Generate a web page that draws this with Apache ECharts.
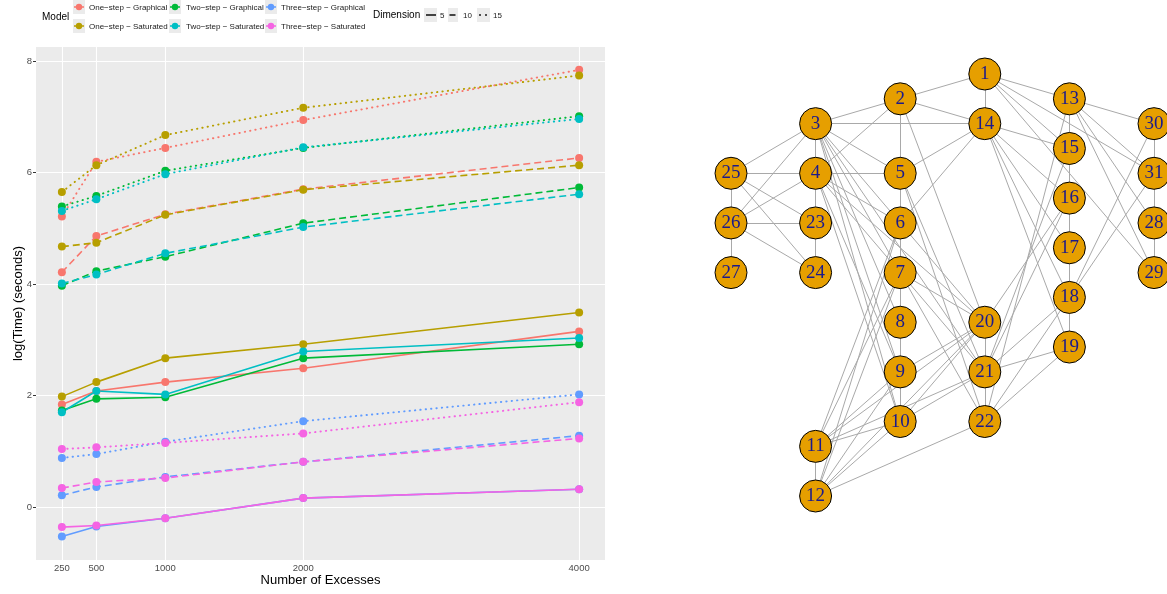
<!DOCTYPE html>
<html>
<head>
<meta charset="utf-8">
<script src="https://cdn.jsdelivr.net/npm/echarts@6/dist/echarts.min.js"></script>
<style>
  html, body { margin: 0; padding: 0; background: #ffffff; }
  #chart { width: 1167px; height: 594px; }
</style>
</head>
<body>
<div id="chart"></div>
<script>
// ---- timing data: log(Time) in seconds against number of excesses ----
const excesses = [250, 500, 1000, 2000, 4000];
const yTicks = [0, 2, 4, 6, 8];

const models = [
  'One−step − Graphical', 'One−step − Saturated',
  'Two−step − Graphical', 'Two−step − Saturated',
  'Three−step − Graphical', 'Three−step − Saturated'
];
const modelColors = ['#F8766D', '#B79F00', '#00BA38', '#00BFC4', '#619CFF', '#F564E3'];
const dimensions = [5, 10, 15];

// One-step, graphical
const oneGraph5  = [1.84, 2.08, 2.24, 2.49, 3.15];
const oneGraph10 = [4.21, 4.86, 5.25, 5.70, 6.26];
const oneGraph15 = [5.21, 6.19, 6.44, 6.94, 7.84];
// One-step, saturated
const oneSat5  = [1.98, 2.24, 2.67, 2.92, 3.49];
const oneSat10 = [4.67, 4.74, 5.24, 5.69, 6.13];
const oneSat15 = [5.65, 6.13, 6.67, 7.16, 7.74];
// Two-step, graphical
const twoGraph5  = [1.73, 1.94, 1.97, 2.67, 2.92];
const twoGraph10 = [3.97, 4.23, 4.49, 5.09, 5.73];
const twoGraph15 = [5.39, 5.58, 6.03, 6.44, 7.01];
// Two-step, saturated
const twoSat5  = [1.70, 2.08, 2.02, 2.79, 3.03];
const twoSat10 = [4.01, 4.17, 4.55, 5.02, 5.61];
const twoSat15 = [5.31, 5.52, 5.97, 6.45, 6.96];
// Three-step, graphical
const threeGraph5  = [-0.53, -0.35, -0.20, 0.16, 0.32];
const threeGraph10 = [0.21, 0.36, 0.54, 0.81, 1.28];
const threeGraph15 = [0.88, 0.95, 1.17, 1.54, 2.02];
// Three-step, saturated
const threeSat5  = [-0.36, -0.33, -0.20, 0.16, 0.32];
const threeSat10 = [0.34, 0.45, 0.52, 0.81, 1.23];
const threeSat15 = [1.04, 1.07, 1.15, 1.32, 1.88];

const timings = [
  [oneGraph5, oneGraph10, oneGraph15],
  [oneSat5, oneSat10, oneSat15],
  [twoGraph5, twoGraph10, twoGraph15],
  [twoSat5, twoSat10, twoSat15],
  [threeGraph5, threeGraph10, threeGraph15],
  [threeSat5, threeSat10, threeSat15]
];

// ---- graph structure: node grid position (column, half-row) and edges ----
const nodeIds  = [1, 2, 3, 4, 5, 6, 7, 8, 9, 10, 11, 12, 13, 14, 15, 16,
                  17, 18, 19, 20, 21, 22, 23, 24, 25, 26, 27, 28, 29, 30, 31];
const nodeCols = [3, 2, 1, 1, 2, 2, 2, 2, 2, 2, 1, 1, 4, 3, 4, 4,
                  4, 4, 4, 3, 3, 3, 1, 1, 0, 0, 0, 5, 5, 5, 5];
const nodeRows = [0, 1, 2, 4, 4, 6, 8, 10, 12, 14, 15, 17, 1, 2, 3, 5,
                  7, 9, 11, 10, 12, 14, 6, 8, 4, 6, 8, 6, 8, 2, 4];
const edgeList = [
  [1,2],[1,14],[1,13],[1,15],[1,31],[1,29],
  [2,3],[2,5],[2,14],[2,4],[2,20],
  [3,4],[3,14],[3,5],[3,6],[3,25],[3,26],[3,8],[3,9],[3,10],[3,21],[3,22],
  [4,5],[4,23],[4,25],[4,26],[4,6],[4,7],[4,9],[4,10],[4,20],
  [5,6],[5,14],[5,21],[5,22],
  [6,7],[6,14],[6,20],[6,11],[6,12],
  [7,8],[7,20],[7,21],[7,11],[7,12],
  [8,9],[9,10],[9,20],[9,11],[9,12],
  [10,11],[10,12],[10,20],[10,21],
  [11,12],[11,20],[11,21],[12,22],[12,20],
  [13,15],[13,30],[13,31],[13,28],[13,29],[13,22],
  [14,15],[14,16],[14,17],[14,18],[14,19],
  [15,16],[15,21],
  [16,17],[16,20],[16,21],
  [17,18],[18,19],[18,21],[18,22],[18,30],[18,31],
  [19,21],[19,22],
  [20,21],[21,22],
  [23,24],[23,25],[23,26],[24,25],[24,26],[25,26],[26,27],
  [30,31],[31,28],[28,29]
];

// ---- build line series ----
const dashStyles = ['solid', [7, 4], [0.4, 5]];
const dashCaps = ['butt', 'butt', 'round'];
const series = [];

// white major grid lines drawn under the data
series.push({
  type: 'line', data: [], z: 1, silent: true, xAxisIndex: 0, yAxisIndex: 0,
  markLine: {
    z: 1,
    silent: true, symbol: 'none', animation: false,
    label: { show: false },
    lineStyle: { color: '#ffffff', width: 1.1, type: 'solid' },
    data: excesses.map(v => ({ xAxis: v })).concat(yTicks.map(v => ({ yAxis: v })))
  }
});

timings.forEach((byDim, m) => {
  byDim.forEach((vals, d) => {
    series.push({
      name: models[m] + ' / ' + dimensions[d],
      type: 'line',
      xAxisIndex: 0, yAxisIndex: 0,
      z: 3,
      data: excesses.map((x, i) => [x, vals[i]]),
      symbol: 'circle',
      symbolSize: 8,
      showSymbol: true,
      animation: false,
      itemStyle: { color: modelColors[m], borderWidth: 0 },
      lineStyle: { color: modelColors[m], width: d === 2 ? 1.9 : 1.6, type: dashStyles[d], cap: dashCaps[d] }
    });
  });
});

// network drawn on its own hidden cartesian frame
series.push({
  type: 'graph',
  coordinateSystem: 'cartesian2d',
  xAxisIndex: 1, yAxisIndex: 1,
  animation: false,
  symbol: 'circle',
  symbolSize: 32,
  z: 5,
  itemStyle: { color: '#E69F00', borderColor: '#000000', borderWidth: 1 },
  label: {
    show: true, position: 'inside',
    fontFamily: 'Liberation Serif', fontSize: 19, color: '#1A1A8C'
  },
  lineStyle: { color: '#A9A9A9', width: 1, opacity: 1, curveness: 0 },
  emphasis: { disabled: true },
  data: nodeIds.map((id, i) => ({
    name: String(id), value: [nodeCols[i], nodeRows[i]]
  })),
  links: edgeList.map(e => ({ source: String(e[0]), target: String(e[1]) }))
});

// ---- legends ----
const font = 'Liberation Sans, Arial, sans-serif';
const graphic = [];
graphic.push({ type: 'text', x: 42, y: 17,
  style: { text: 'Model', fontFamily: font, fontSize: 10, fill: '#000', verticalAlign: 'middle' } });
const keyX = [73, 169, 265];
const textX = [89, 186, 281];
const keyY = [0, 19];
models.forEach((name, i) => {
  const col = Math.floor(i / 2), row = i % 2;
  graphic.push({ type: 'rect', shape: { x: keyX[col], y: keyY[row], width: 12, height: 14 },
    style: { fill: '#EBEBEB' } });
  graphic.push({ type: 'line', shape: { x1: keyX[col] + 1, y1: keyY[row] + 7, x2: keyX[col] + 11, y2: keyY[row] + 7 },
    style: { stroke: modelColors[i], lineWidth: 1.5 } });
  graphic.push({ type: 'circle', shape: { cx: keyX[col] + 6, cy: keyY[row] + 7, r: 3.2 },
    style: { fill: modelColors[i] } });
  graphic.push({ type: 'text', x: textX[col], y: keyY[row] + 7.5,
    style: { text: name, fontFamily: font, fontSize: 8, fill: '#1a1a1a', verticalAlign: 'middle' } });
});

graphic.push({ type: 'text', x: 373, y: 15,
  style: { text: 'Dimension', fontFamily: font, fontSize: 10, fill: '#000', verticalAlign: 'middle' } });
const dimKeyX = [424, 448, 477];
const dimKeyW = [13, 10, 13];
const dimTextX = [440, 463, 493];
dimensions.forEach((d, i) => {
  graphic.push({ type: 'rect', shape: { x: dimKeyX[i], y: 8, width: dimKeyW[i], height: 14 },
    style: { fill: '#EBEBEB' } });
  graphic.push({ type: 'text', x: dimTextX[i], y: 15.5,
    style: { text: String(d), fontFamily: font, fontSize: 8, fill: '#1a1a1a', verticalAlign: 'middle' } });
});
graphic.push({ type: 'line', shape: { x1: 426, y1: 15, x2: 436, y2: 15 },
  style: { stroke: '#1a1a1a', lineWidth: 1.6 } });
graphic.push({ type: 'line', shape: { x1: 449.5, y1: 15, x2: 455.5, y2: 15 },
  style: { stroke: '#1a1a1a', lineWidth: 1.6 } });
graphic.push({ type: 'circle', shape: { cx: 480, cy: 15, r: 1 }, style: { fill: '#1a1a1a' } });
graphic.push({ type: 'circle', shape: { cx: 486, cy: 15, r: 1 }, style: { fill: '#1a1a1a' } });

const chart = echarts.init(document.getElementById('chart'), null, { renderer: 'canvas' });
chart.setOption({
  backgroundColor: '#ffffff',
  animation: false,
  grid: [{
    left: 36, top: 47, width: 569, height: 513,
    show: true, backgroundColor: '#EBEBEB', borderWidth: 0,
    containLabel: false, outerBoundsMode: 'none'
  }, {
    left: 731, top: 74, width: 423, height: 422,
    show: false, containLabel: false, outerBoundsMode: 'none'
  }],
  xAxis: [{
    type: 'value', min: 62.5, max: 4187.5, gridIndex: 0,
    name: 'Number of Excesses', nameLocation: 'middle', nameGap: 14, nameMoveOverlap: false,
    nameTextStyle: { fontFamily: font, fontSize: 13, color: '#000' },
    axisLine: { show: false },
    axisTick: { show: true, length: 3, customValues: excesses, lineStyle: { color: '#333333' } },
    axisLabel: { customValues: excesses, formatter: v => String(v),
      fontFamily: font, fontSize: 9.5, color: '#4D4D4D', margin: 3 },
    splitLine: { show: false }
  }, {
    type: 'value', min: 0, max: 5, gridIndex: 1, show: false
  }],
  yAxis: [{
    type: 'value', min: -0.95, max: 8.25, gridIndex: 0,
    name: 'log(Time) (seconds)', nameLocation: 'middle', nameGap: 11, nameRotate: 90, nameMoveOverlap: false,
    nameTextStyle: { fontFamily: font, fontSize: 13, color: '#000' },
    axisLine: { show: false },
    axisTick: { show: true, length: 3, customValues: yTicks, lineStyle: { color: '#333333' } },
    axisLabel: { customValues: yTicks, formatter: v => String(v),
      fontFamily: font, fontSize: 9.5, color: '#4D4D4D', margin: 4 },
    splitLine: { show: false }
  }, {
    type: 'value', min: 0, max: 17, inverse: true, gridIndex: 1, show: false
  }],
  graphic: graphic,
  series: series
});
</script>
</body>
</html>
